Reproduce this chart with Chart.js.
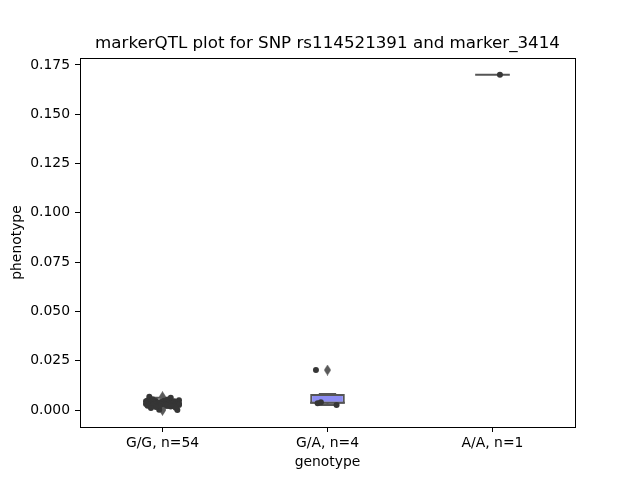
<!DOCTYPE html>
<html lang="en">
<head>
<meta charset="UTF-8" />
<title>markerQTL plot</title>
<script src="https://cdn.jsdelivr.net/npm/chart.js"></script>
<style>
  html, body { margin: 0; padding: 0; background: white; }
  #wrap { width: 640px; height: 480px; }
</style>
</head>
<body>
<div id="wrap"><canvas id="qtlChart" width="640" height="480"></canvas></div>
<script>
  // genotype groups and their phenotype values
  const genotypes = ['G/G, n=54', 'G/A, n=4', 'A/A, n=1'];
  const ggValues = [0.0068, 0.0062, 0.0001, 0.0000, 0.0055, 0.0052, 0.0050, 0.0048, 0.0047, 0.0046,
                    0.0045, 0.0044, 0.0043, 0.0042, 0.0042, 0.0041, 0.0040, 0.0040, 0.0039, 0.0038,
                    0.0038, 0.0037, 0.0036, 0.0036, 0.0035, 0.0035, 0.0034, 0.0034, 0.0033, 0.0033,
                    0.0032, 0.0032, 0.0031, 0.0031, 0.0030, 0.0030, 0.0029, 0.0029, 0.0028, 0.0028,
                    0.0027, 0.0027, 0.0026, 0.0025, 0.0025, 0.0024, 0.0023, 0.0022, 0.0021, 0.0020,
                    0.0018, 0.0015, 0.0012, 0.0010];
  const ggJitter = [-0.08, 0.05, -0.02, 0.09, -0.06, 0.03, 0.10, -0.09, 0.01, -0.04,
                    0.07, -0.10, 0.04, -0.07, 0.08, -0.01, 0.06, -0.05, 0.02, -0.08,
                    0.09, -0.03, 0.05, -0.09, 0.00, 0.07, -0.06, 0.03, -0.02, 0.10,
                    -0.04, 0.06, -0.10, 0.01, 0.08, -0.07, 0.04, -0.05, 0.09, -0.01,
                    0.02, -0.08, 0.06, -0.03, 0.10, -0.06, 0.03, -0.09, 0.07, -0.02,
                    0.05, -0.04, 0.08, -0.07];
  const gaValues = [0.0203, 0.0035, 0.0040, 0.0025];
  const gaJitter = [-0.07, -0.06, -0.04, 0.055];
  const aaValues = [0.1700];
  const aaJitter = [0.045];
  const yTicks = [0, 0.025, 0.05, 0.075, 0.1, 0.125, 0.15, 0.175];

  const groups = [ggValues, gaValues, aaValues];
  const jitters = [ggJitter, gaJitter, aaJitter];

  function quantile(s, p) {
    const pos = (s.length - 1) * p, lo = Math.floor(pos), hi = Math.ceil(pos);
    return s[lo] + (s[hi] - s[lo]) * (pos - lo);
  }
  function boxStats(vals) {
    const s = [...vals].sort((a, b) => a - b);
    const q1 = quantile(s, 0.25), med = quantile(s, 0.5), q3 = quantile(s, 0.75), iqr = q3 - q1;
    const lim1 = q1 - 1.5 * iqr, lim2 = q3 + 1.5 * iqr;
    const inside = s.filter(v => v >= lim1 && v <= lim2);
    return {
      q1, med, q3,
      lo: Math.min(inside[0], q1),
      hi: Math.max(inside[inside.length - 1], q3),
      fliers: s.filter(v => v < lim1 || v > lim2)
    };
  }
  const stats = groups.map(boxStats);

  const halfW = 0.105;
  const boxData = stats.map((st, i) => ({ x: i, y: [st.q1, st.q3] }));
  const lineData = [];
  stats.forEach((st, i) => {
    lineData.push({ x: i, y: st.q1 }, { x: i, y: st.lo }, { x: i, y: null });
    lineData.push({ x: i, y: st.q3 }, { x: i, y: st.hi }, { x: i, y: null });
    lineData.push({ x: i - halfW / 2, y: st.lo }, { x: i + halfW / 2, y: st.lo }, { x: i, y: null });
    lineData.push({ x: i - halfW / 2, y: st.hi }, { x: i + halfW / 2, y: st.hi }, { x: i, y: null });
    lineData.push({ x: i - halfW, y: st.med }, { x: i + halfW, y: st.med }, { x: i, y: null });
  });
  const flierData = [];
  stats.forEach((st, i) => st.fliers.forEach(v => flierData.push({ x: i, y: v })));
  const pointData = [];
  groups.forEach((vals, i) => vals.forEach((v, k) => pointData.push({ x: i + jitters[i][k], y: v })));

  function makeDiamond(w, h, color) {
    const c = document.createElement('canvas');
    c.width = w; c.height = h;
    const g = c.getContext('2d');
    g.fillStyle = color;
    g.beginPath();
    g.moveTo(w / 2, 0); g.lineTo(w, h / 2); g.lineTo(w / 2, h); g.lineTo(0, h / 2);
    g.closePath(); g.fill();
    return c;
  }

  const framePlugin = {
    id: 'frame',
    afterDatasetsDraw(chart) {
      const a = chart.chartArea, ctx = chart.ctx;
      ctx.save();
      ctx.strokeStyle = '#000';
      ctx.lineWidth = 1;
      ctx.strokeRect(Math.round(a.left) + 0.5, Math.round(a.top) + 0.5,
                     Math.round(a.right - a.left), Math.round(a.bottom - a.top));
      ctx.restore();
    }
  };

  const font = { family: 'DejaVu Sans', size: 13.9 };

  new Chart(document.getElementById('qtlChart'), {
    type: 'bar',
    data: {
      datasets: [
        { type: 'scatter', data: pointData, backgroundColor: '#363636', borderWidth: 0, pointRadius: 3, order: 0 },
        { type: 'scatter', data: flierData, pointStyle: makeDiamond(7, 11, '#5a5a5a'), order: 1 },
        { type: 'line', data: lineData, borderColor: '#555555', borderWidth: 2, pointRadius: 0, spanGaps: false, fill: false, order: 2 },
        { type: 'bar', data: boxData, backgroundColor: '#8c8cf2', borderColor: '#555555', borderWidth: 2,
          borderSkipped: false, barPercentage: 0.21, categoryPercentage: 1, grouped: false, order: 3 }
      ]
    },
    options: {
      responsive: false,
      devicePixelRatio: 1,
      animation: false,
      layout: { padding: { left: 0, right: 65, top: 0, bottom: 0 } },
      plugins: {
        legend: { display: false },
        tooltip: { enabled: false },
        title: {
          display: true,
          fullSize: false,
          text: 'markerQTL plot for SNP rs114521391 and marker_3414',
          color: '#000',
          font: { family: 'DejaVu Sans', size: 16.7, weight: 'normal' },
          padding: { top: 34, bottom: 4 }
        }
      },
      scales: {
        x: {
          type: 'linear', min: -0.5, max: 2.5, offset: false,
          afterBuildTicks: s => { s.ticks = genotypes.map((g, i) => ({ value: i })); },
          afterFit: s => { s.height = 53; },
          ticks: { callback: v => genotypes[v], includeBounds: false, color: '#000', font, padding: 3, maxRotation: 0, autoSkip: false },
          grid: { display: true, offset: false, drawOnChartArea: false, drawTicks: true, tickLength: 5, color: '#000' },
          border: { display: true, color: '#000', width: 1 },
          title: { display: true, text: 'genotype', color: '#000', font, padding: { top: 0, bottom: 9 } }
        },
        y: {
          min: -0.0086, max: 0.1785,
          afterBuildTicks: s => { s.ticks = yTicks.map(v => ({ value: v })); },
          afterFit: s => { s.width = 80; },
          ticks: { callback: v => v.toFixed(3), includeBounds: false, color: '#000', font, padding: 5 },
          grid: { display: true, drawOnChartArea: false, drawTicks: true, tickLength: 5, color: '#000' },
          border: { display: true, color: '#000', width: 1 },
          title: { display: true, text: 'phenotype', color: '#000', font, padding: { top: 9, bottom: 0 } }
        }
      }
    },
    plugins: [framePlugin]
  });
</script>
</body>
</html>
